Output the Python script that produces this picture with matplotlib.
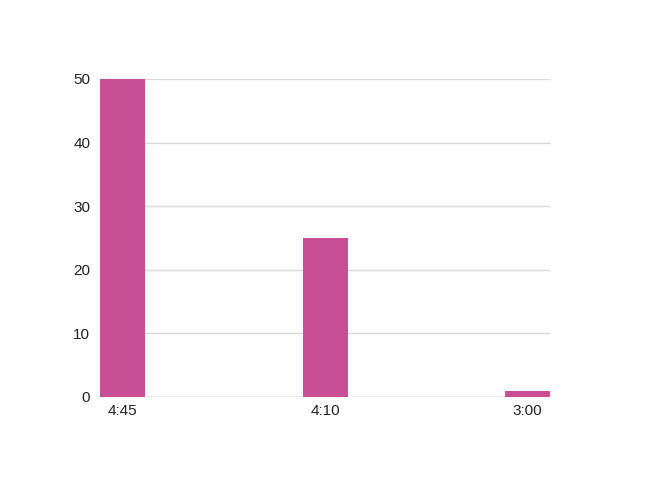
import matplotlib
matplotlib.use("Agg")
import matplotlib.pyplot as plt

categories = ["4:45", "4:10", "3:00"]
values = [50, 25, 1]
yticks = [0, 10, 20, 30, 40, 50]

plt.rcParams['font.family'] = ['Liberation Sans', 'DejaVu Sans']

fig = plt.figure(figsize=(6.5, 4.87), dpi=100)
ax = fig.add_axes([100/650, 1-397/487, 450/650, 318/487])
w = 2/9
x = list(range(len(categories)))
bars = ax.bar(x, values, width=w, color="#c84f96", zorder=3)
ax.set_xlim(-w/2, len(categories)-1+w/2)
ax.set_ylim(0, 50)
ax.set_yticks(yticks)
ax.set_xticks(x)
ax.set_xticklabels(categories)
ax.grid(axis='y', color='#d9d9d9', linewidth=1, zorder=0)
for s in ax.spines.values():
    s.set_visible(False)
ax.tick_params(length=0, labelsize=11, colors='#222222')
ax.tick_params(axis='y', pad=7)
ax.tick_params(axis='x', pad=5)
ax.axhline(0, color='#cccccc', linewidth=1, zorder=2)
fig.savefig("out.png", dpi=100, facecolor='white')
